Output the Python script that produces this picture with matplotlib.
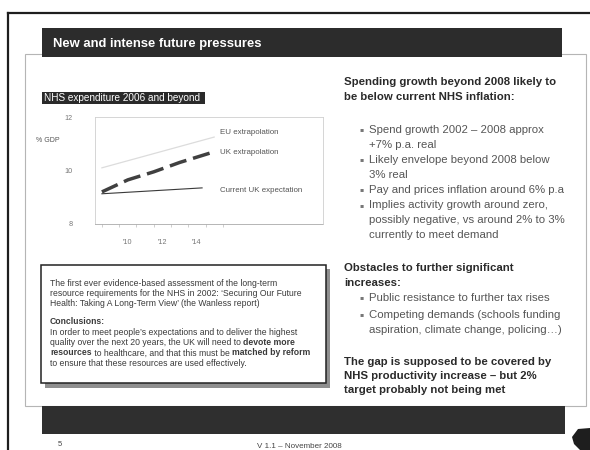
import matplotlib
matplotlib.use('Agg')
import matplotlib.pyplot as plt
from matplotlib.patches import Rectangle, Polygon

plt.rcParams['font.family'] = ['Liberation Sans', 'DejaVu Sans']

# NHS expenditure, % of GDP
years_eu = [2008.5, 2015.0]
eu_extrap = [10.1, 11.25]
years_uk = [2008.5, 2010.0, 2011.5, 2013.0, 2015.0]
uk_extrap = [9.2, 9.65, 9.95, 10.3, 10.7]
years_cur = [2008.5, 2014.3]
cur_expect = [9.13, 9.35]
series_names = ['EU extrapolation', 'UK extrapolation', 'Current UK expectation']
year_ticks = [2010, 2012, 2014]
year_labels = ["'10", "'12", "'14"]
y_ticks = [8, 10, 12]

W, H = 590, 450
fig = plt.figure(figsize=(W / 100, H / 100), dpi=100)
fig.patch.set_facecolor('white')

# slide canvas in pixel units, y going down
bg = fig.add_axes([0, 0, 1, 1])
bg.set_xlim(0, W)
bg.set_ylim(H, 0)
bg.axis('off')

# page frame
bg.plot([8, W], [13, 13], color='#1e1e1e', lw=1.6)
bg.plot([8, 8], [13, H], color='#1e1e1e', lw=1.6)

# white content panel
bg.add_patch(Rectangle((25, 54), 561, 352, facecolor='white', edgecolor='#b5b5b5', lw=0.8))

# title bar and footer bar
bg.add_patch(Rectangle((42, 28), 520, 29, facecolor='#2c2c2c', edgecolor='none'))
bg.add_patch(Rectangle((42, 406), 523, 28, facecolor='#2f2f2f', edgecolor='none'))
bg.text(53, 43.5, 'New and intense future pressures', color='white', fontsize=9.4,
        fontweight='bold', va='center', ha='left')

# footer
bg.text(58, 444, '5', fontsize=5.5, color='#444', va='center')
bg.text(257, 446, 'V 1.1 \u2013 November 2008', fontsize=5.8, color='#444', va='center')
bg.add_patch(Polygon([[572, 437], [578, 429], [590, 428], [590, 450], [580, 450], [574, 444]],
                     facecolor='#1e1e1e', edgecolor='none'))

# chart caption
bg.add_patch(Rectangle((42, 92), 163, 12, facecolor='#2a2a2a', edgecolor='none'))
bg.text(44, 98, 'NHS expenditure 2006 and beyond', color='white', fontsize=7.2,
        va='center', ha='left')
bg.text(36, 141, '% GDP', fontsize=5, color='#555', va='center')

# chart
ax = fig.add_axes([95 / W, 1 - 224 / H, 228 / W, 107 / H])
ax.set_facecolor('none')
ax.plot(years_eu, eu_extrap, color='#dcdcdc', lw=0.9)
ax.plot(years_uk, uk_extrap, color='#404040', lw=2.5, dashes=(5, 2))
ax.plot(years_cur, cur_expect, color='#3a3a3a', lw=0.8)
ax.set_xlim(2008.1, 2021.3)
ax.set_ylim(8, 12)
ax.set_yticks(y_ticks)
ax.set_yticklabels([str(v) for v in y_ticks], fontsize=5.2, color='#777')
ax.tick_params(axis='y', length=0, pad=16)
ax.set_xticks(year_ticks)
ax.set_xticklabels(year_labels, fontsize=5.2, color='#777')
ax.set_xticks([2008.5 + k for k in range(8)], minor=True)
ax.tick_params(axis='x', which='major', length=0, pad=11)
ax.tick_params(axis='x', which='minor', length=2.5, width=0.5, color='#bbb', direction='out')
for s in ax.spines.values():
    s.set_color('#cfcfcf')
    s.set_linewidth(0.6)
ax.spines['left'].set_linestyle((0, (1, 1)))
ax.spines['bottom'].set_linestyle((0, (1, 1)))
ax.spines['bottom'].set_color('#aaa')

label_y = [132, 152, 190]
for name, ly in zip(series_names, label_y):
    bg.text(220, ly, name, fontsize=5.7, color='#555', va='center', ha='left', zorder=5)

renderer = fig.canvas.get_renderer()


def text_width(s, **kw):
    a = bg.text(0, 0, s + 'x', **kw)
    b = bg.text(0, 0, 'x', **kw)
    w = a.get_window_extent(renderer).width - b.get_window_extent(renderer).width
    a.remove()
    b.remove()
    return w


def draw_runs(x, y, parts, **kw):
    for s, bold in parts:
        fw = 'bold' if bold else 'normal'
        bg.text(x, y, s, fontweight=fw, va='center', ha='left', **kw)
        x += text_width(s, fontweight=fw, **kw)


# Wanless report box with drop shadow
bg.add_patch(Rectangle((45, 269), 285, 119, facecolor='#8f8f8f', edgecolor='none'))
bg.add_patch(Rectangle((41, 265), 285, 118, facecolor='white', edgecolor='#222', lw=1.1))

box_lines = [
    [('The first ever evidence-based assessment of the long-term', False)],
    [('resource requirements for the NHS in 2002: \u2018Securing Our Future', False)],
    [('Health: Taking A Long-Term View\u2019 (the Wanless report)', False)],
    [],
    [('Conclusions:', True)],
    [('In order to meet people\u2019s expectations and to deliver the highest', False)],
    [('quality over the next 20 years, the UK will need to ', False), ('devote more', True)],
    [('resources', True), (' to healthcare, and that this must be ', False),
     ('matched by reform', True)],
    [('to ensure that these resources are used effectively.', False)],
]
y = 283
for parts in box_lines:
    draw_runs(50, y, parts, fontsize=6.2, color='#3a3a3a')
    y += 10.4 if parts else 7.6

# right column
head_kw = dict(fontsize=8.2, color='#2a2a2a', fontweight='bold', va='center', ha='left')
body_kw = dict(fontsize=8.2, color='#555', va='center', ha='left')
bullet_kw = dict(fontsize=4.5, color='#777', va='center', ha='center',
                 family=['DejaVu Sans'])

bg.text(344, 82, 'Spending growth beyond 2008 likely to', **head_kw)
bg.text(344, 97, 'be below current NHS inflation:', **head_kw)

bullets1 = [
    ['Spend growth 2002 \u2013 2008 approx', '+7% p.a. real'],
    ['Likely envelope beyond 2008 below', '3% real'],
    ['Pay and prices inflation around 6% p.a'],
    ['Implies activity growth around zero,', 'possibly negative, vs around 2% to 3%',
     'currently to meet demand'],
]
y = 130
for item in bullets1:
    bg.text(362, y, '\u25aa', **bullet_kw)
    for line in item:
        bg.text(369, y, line, **body_kw)
        y += 14.6
    y += 0.8

bg.text(344, 268, 'Obstacles to further significant', **head_kw)
bg.text(344, 283, 'increases:', **head_kw)
bullets2 = [
    ['Public resistance to further tax rises'],
    ['Competing demands (schools funding', 'aspiration, climate change, policing\u2026)'],
]
y = 298
for item in bullets2:
    bg.text(362, y, '\u25aa', **bullet_kw)
    for line in item:
        bg.text(369, y, line, **body_kw)
        y += 15.5
    y += 1

bg.text(344, 362, 'The gap is supposed to be covered by', **head_kw)
bg.text(344, 376, 'NHS productivity increase \u2013 but 2%', **head_kw)
bg.text(344, 390, 'target probably not being met', **head_kw)

fig.savefig('out.png', dpi=100, facecolor='white')
